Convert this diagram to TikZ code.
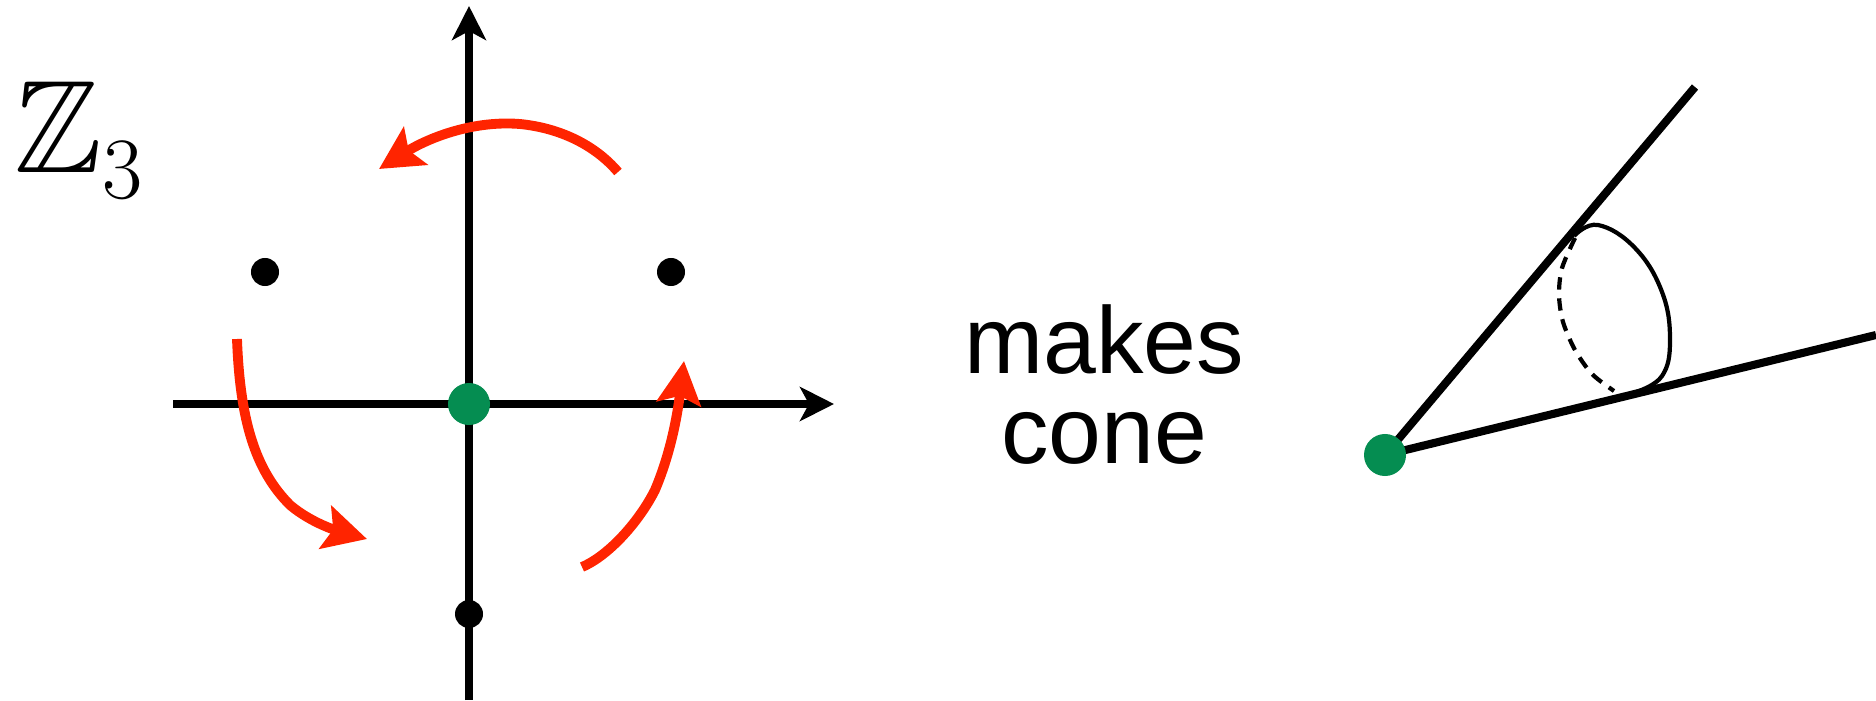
\documentclass[tikz,border=0pt]{standalone}
\usepackage{amssymb}
\usepackage{fontspec}
\setsansfont{Liberation Sans}
\usetikzlibrary{arrows.meta}
\definecolor{TurnRed}{HTML}{FF2400}
\definecolor{FixedGreen}{HTML}{058D51}

\begin{document}
\begin{tikzpicture}[x=0.01cm,y=-0.01cm,
  axis/.style={line width=2.3pt,-{Stealth[length=3.4mm,width=3.4mm,inset=0.9mm]}},
  turn/.style={draw=TurnRed,line width=2.8pt,-{Stealth[length=4.3mm,width=4.4mm,inset=0.8mm]}},
  fixed/.style={circle,fill=FixedGreen,inner sep=0pt,minimum size=4.2mm},
  orbit/.style={circle,fill=black,inner sep=0pt,minimum size=2.8mm},
  coneline/.style={line width=2.3pt},
  rim/.style={line width=1.2pt}
]
\useasboundingbox (0,0) rectangle (1876,700);

% the plane with the Z3 rotation
\coordinate (origin) at (469,404);
\coordinate (xtip) at (834,404);
\coordinate (xend) at (173,404);
\coordinate (ytip) at (469,6);
\coordinate (yend) at (469,700);
\draw[axis] (xend) -- (xtip);
\draw[axis] (yend) -- (ytip);

\node[anchor=base west,inner sep=0pt,font=\fontsize{37.5}{42}\selectfont] (group) at (14,172) {$\mathbb{Z}_3$};

\coordinate (top start) at (618,172);
\coordinate (top tip) at (379,169);
\coordinate (left start) at (237,339);
\coordinate (left tip) at (367,539);
\coordinate (right start) at (582,567);
\coordinate (right tip) at (684,361);
\draw[turn] (top start) .. controls (595,145) and (560,128) .. (520,124)
  .. controls (470,120) and (425,140) .. (top tip);
\draw[turn] (left start) .. controls (240,420) and (255,470) .. (290,505)
  .. controls (310,522) and (335,530) .. (left tip);
\draw[turn] (right start) .. controls (610,555) and (640,520) .. (655,490)
  .. controls (672,450) and (678,410) .. (right tip);

\node[orbit] (pa) at (265,272) {};
\node[orbit] (pb) at (671,272) {};
\node[orbit] (pc) at (469,614) {};
\node[fixed] (o) at (origin) {};

\node[font=\sffamily\fontsize{27}{25.5}\selectfont,align=center,anchor=base] (makes) at (1104,463) {makes\\cone};

% the cone
\coordinate (apex) at (1385,455);
\coordinate (upper) at (1695,87);
\coordinate (lower) at (1876,335);
\draw[coneline] (apex) -- (upper);
\draw[coneline] (apex) -- (lower);
\draw[rim] plot[smooth,tension=0.7] coordinates {(1574,236) (1598,225) (1635,248) (1662,292) (1670,340) (1662,376) (1636,392)};
\draw[rim,dash pattern=on 3.5pt off 2.5pt] plot[smooth] coordinates {(1575,238) (1562,268) (1559,295) (1563,322) (1575,350) (1592,374) (1614,391)};
\node[fixed] (tip) at (apex) {};
\end{tikzpicture}
\end{document}
